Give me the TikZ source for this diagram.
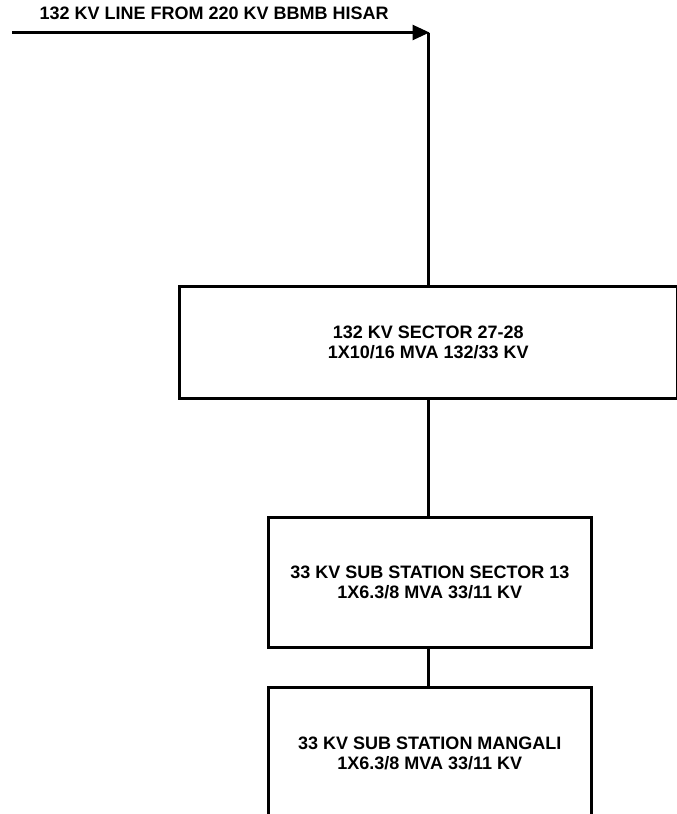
\documentclass[tikz,border=0pt]{standalone}
\usepackage{fontspec}
\setmainfont{Liberation Sans}
\usetikzlibrary{arrows.meta}
\begin{document}
\begin{tikzpicture}[x=1pt,y=-1pt,
  boxstyle/.style={draw=black,line width=2.6pt,fill=white,align=center,
    font=\fontsize{18}{20.5}\selectfont\bfseries,inner sep=0pt,anchor=north west},
  wire/.style={draw=black,line width=2.6pt}]
\useasboundingbox (0,0) rectangle (677,814);
\clip (0,0) rectangle (677,814);
\node[font=\fontsize{18}{20}\selectfont\bfseries,anchor=west] (lbl) at (36,13) {132 KV LINE FROM 220 KV BBMB HISAR};
\coordinate (src) at (12,32.5);
\coordinate (corner) at (428.5,32.5);
\node[boxstyle,minimum width=498pt,minimum height=112pt] (b1) at (178,285) {132 KV SECTOR 27-28\\1X10/16 MVA 132/33 KV};
\node[boxstyle,minimum width=323pt,minimum height=130pt] (b2) at (267,516) {33 KV SUB STATION SECTOR 13\\1X6.3/8 MVA 33/11 KV};
\node[boxstyle,minimum width=323pt,minimum height=132pt] (b3) at (267,686) {33 KV SUB STATION MANGALI\\1X6.3/8 MVA 33/11 KV};
\draw[wire,-{Triangle[length=17pt,width=15pt]},shorten >=-1pt] (src) -- (corner);
\draw[wire] (corner) -- (corner |- b1.north);
\draw[wire] (corner |- b1.south) -- (corner |- b2.north);
\draw[wire] (corner |- b2.south) -- (corner |- b3.north);
\end{tikzpicture}
\end{document}
